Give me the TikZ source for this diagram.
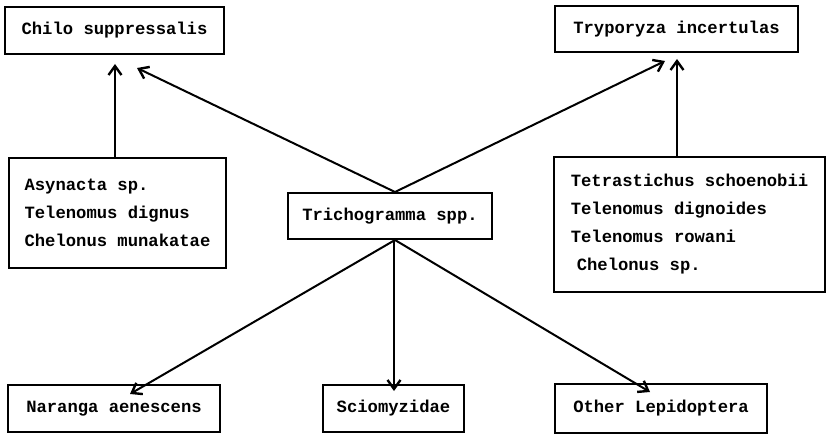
\documentclass[tikz,border=0pt]{standalone}
\usepackage{fontspec}
\setmonofont{Liberation Mono}
\usetikzlibrary{arrows.meta}
\begin{document}
\begin{tikzpicture}[x=1pt,y=-1pt,
  box/.style={draw, line width=2pt, inner sep=0pt, font=\ttfamily\bfseries\fontsize{17.2}{28}\selectfont},
  arr/.style={line width=2pt, -{Straight Barb[length=9pt,width=13pt,line width=2.4pt]}}]
\useasboundingbox (0,0) rectangle (827,435);
\node[box, minimum width=219pt, minimum height=47pt] (chilo) at (114.5,30.5) {Chilo suppressalis};
\node[box, minimum width=243pt, minimum height=46pt] (tryp) at (676.5,29) {Tryporyza incertulas};
\node[box, minimum width=217pt, minimum height=110pt, align=left] (asyn) at (117.5,213)
  {Asynacta sp.\\Telenomus dignus\\Chelonus munakatae};
\node[box, minimum width=204pt, minimum height=46pt] (trich) at (390,216) {Trichogramma spp.};
\node[box, minimum width=271pt, minimum height=135pt, align=left] (tetra) at (689.5,224.5)
  {Tetrastichus schoenobii\\Telenomus dignoides\\Telenomus rowani\\\hspace{6pt}Chelonus sp.};
\node[box, minimum width=212pt, minimum height=47pt] (nara) at (114,408.5) {Naranga aenescens};
\node[box, minimum width=141pt, minimum height=47pt] (scio) at (393.5,408.5) {Sciomyzidae};
\node[box, minimum width=212pt, minimum height=49pt] (other) at (661,408.5) {Other Lepidoptera};
% upward arrows
\draw[arr] (asyn.north -| 115,0) -- ([xshift=0.5pt,yshift=-9pt]chilo.south);
\draw[arr] ([xshift=5pt]trich.north) -- ([shift={(22.5pt,-13pt)}]chilo.south);
\draw[arr] ([xshift=-12.5pt]tetra.north) -- ([shift={(0.5pt,-6pt)}]tryp.south);
\draw[arr] ([xshift=5pt]trich.north) -- ([shift={(-11.5pt,-8pt)}]tryp.south);
% downward arrows
\draw[arr] ([xshift=5pt]trich.south) -- ([shift={(16pt,-10pt)}]nara.north);
\draw[arr] ([xshift=4pt]trich.south) -- ([shift={(0.5pt,-7pt)}]scio.north);
\draw[arr] ([xshift=5pt]trich.south) -- ([shift={(-11pt,-9pt)}]other.north);
\end{tikzpicture}
\end{document}
